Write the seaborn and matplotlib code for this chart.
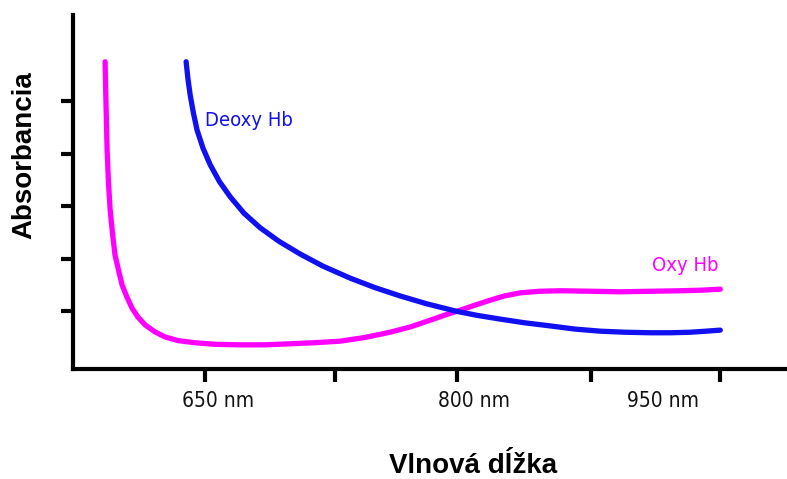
import pandas as pd
import seaborn as sns
import matplotlib.pyplot as plt

# wavelength (nm) and absorbance (arbitrary units)
oxy_nm = [590.5, 591.0, 591.7, 592.5, 593.5, 595.0, 596.4, 598.5, 600.6, 603.5, 606.5, 610.0,
          614.3, 620.0, 626.2, 634.0, 644.0, 656.0, 670.8, 685.0, 700.6, 715.0, 730.4, 745.0,
          760.0, 772.0, 784.0, 793.0, 801.8, 810.0, 819.6, 828.0, 837.5, 849.0, 861.3, 880.0,
          897.0, 915.0, 932.7, 945.0, 956.5]
oxy_abs = [5.75, 5.00, 4.07, 3.45, 2.93, 2.45, 2.07, 1.78, 1.50, 1.27, 1.06, 0.89,
           0.74, 0.61, 0.51, 0.44, 0.40, 0.37, 0.36, 0.36, 0.38, 0.40, 0.43, 0.50,
           0.60, 0.70, 0.83, 0.93, 1.02, 1.11, 1.21, 1.29, 1.35, 1.38, 1.39, 1.38,
           1.37, 1.38, 1.39, 1.40, 1.42]

deoxy_nm = [638.7, 639.8, 641.1, 643.0, 645.2, 648.8, 653.0, 658.5, 664.9, 673.0, 682.7, 694.0,
            706.5, 720.0, 736.3, 751.0, 766.1, 782.0, 799.4, 812.0, 825.6, 840.0, 855.4, 870.0,
            885.1, 900.0, 914.9, 927.0, 938.7, 948.0, 956.5]
deoxy_abs = [5.75, 5.42, 5.12, 4.78, 4.45, 4.10, 3.79, 3.47, 3.18, 2.87, 2.59, 2.33,
             2.09, 1.86, 1.63, 1.45, 1.29, 1.14, 1.00, 0.92, 0.85, 0.78, 0.72, 0.66,
             0.62, 0.60, 0.59, 0.59, 0.60, 0.62, 0.64]

tick_nm = [650, 727.4, 800, 879.7, 956.5]
label_nm = [657.7, 810.1, 922.6]
label_txt = ["650 nm", "800 nm", "950 nm"]
ytick_vals = [1, 2, 3, 4, 5]

oxy_df = pd.DataFrame({"nm": oxy_nm, "absorbance": oxy_abs})
deoxy_df = pd.DataFrame({"nm": deoxy_nm, "absorbance": deoxy_abs})

sns.set_style("ticks")
plt.rcParams['font.family'] = ['Liberation Sans', 'DejaVu Sans']
narrow = ['DejaVu Sans Condensed', 'DejaVu Sans']

fig = plt.figure(figsize=(7.87, 4.79), dpi=100)
ax = fig.add_axes([73 / 787, (479 - 369) / 479, (785 - 73) / 787, (369 - 15) / 479])

magenta = '#ff00ff'
blue = '#1010f0'
sns.lineplot(data=oxy_df, x="nm", y="absorbance", color=magenta, lw=3.8,
             estimator=None, sort=False, ax=ax, solid_capstyle='round', solid_joinstyle='round')
sns.lineplot(data=deoxy_df, x="nm", y="absorbance", color=blue, lw=3.8,
             estimator=None, sort=False, ax=ax, solid_capstyle='round', solid_joinstyle='round')

ax.set_xlim(571.4, 995)
ax.set_ylim(-0.1, 6.64)
sns.despine(ax=ax)
for s in ["left", "bottom"]:
    ax.spines[s].set_linewidth(3)
    ax.spines[s].set_color('black')

ax.set_xticks(tick_nm)
ax.set_xticklabels([])
ax.set_xticks(label_nm, minor=True)
ax.set_xticklabels(label_txt, minor=True, family=narrow, fontstretch='condensed',
                   fontsize=15, color='#111111')
ax.tick_params(axis='x', which='major', length=9, width=3, direction='out', color='black')
ax.tick_params(axis='x', which='minor', length=0, pad=16)
ax.set_yticks(ytick_vals)
ax.set_yticklabels([])
ax.tick_params(axis='y', length=9, width=3, direction='out', color='black')

ax.text(650, 4.64, "Deoxy Hb", color=blue, family=narrow, fontstretch='condensed',
        fontsize=14.5, ha='left', va='center')
ax.text(955.3, 1.88, "Oxy Hb", color=magenta, family=narrow, fontstretch='condensed',
        fontsize=14.5, ha='right', va='center')

ax.set_ylabel("Absorbancia", fontsize=20, fontweight='bold', color='black')
ax.yaxis.set_label_coords(-0.050, 0.605)
ax.set_xlabel("Vlnová dĺžka", fontsize=20, fontweight='bold', color='black')
ax.xaxis.label.set_verticalalignment('center')
ax.xaxis.set_label_coords(0.562, -0.274)

plt.savefig("out.png", dpi=100)
